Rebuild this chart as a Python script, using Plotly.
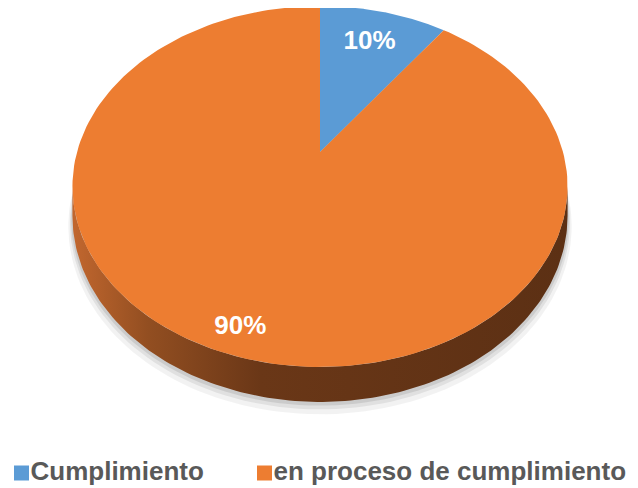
import numpy as np
import plotly.graph_objects as go

# chart data
categories = ["Cumplimiento", "en proceso de cumplimiento"]
values = [10, 90]
labels = ["10%", "90%"]
colors = ["#5b9bd5", "#ed7d31"]

# rough perspective for the tilted pie (pixel space)
CX, CY = 320, 152
SX, SY = 243, 173.9
R = -0.191
DEPTH = 28.3
OFF = 8  # page body margin


def project(u, v, drop=0.0):
    w = 1 + R * v
    return CX + SX * u / w, CY + SY * v / w + drop / w


def slice_angles(vals):
    tot = sum(vals)
    edges = np.cumsum([0] + list(vals)) / tot * 2 * np.pi
    return list(zip(edges[:-1], edges[1:]))


fig = go.Figure()

# soft shadow under the disk
for k, op in [(10, 0.05), (6, 0.07), (3, 0.09)]:
    t = np.linspace(0, 2 * np.pi, 200)
    xs, ys = project(np.cos(t) * (1 + k / 600), np.sin(t), DEPTH + k)
    fig.add_trace(go.Scatter(x=xs, y=ys, fill="toself", mode="lines", line_width=0,
                             fillcolor=f"rgba(0,0,0,{op})", hoverinfo="skip", showlegend=False))

# visible front rim (clockwise from 12 o'clock: u = sin a, v = -cos a)
half = np.pi / 2 - np.arcsin(-R)
for (a0, a1), col in zip(slice_angles(values), colors):
    lo = max(a0, np.pi - half)
    hi = min(a1, np.pi + half)
    if hi <= lo:
        continue
    t = np.linspace(lo, hi, 150)
    u, v = np.sin(t), -np.cos(t)
    xt, yt = project(u, v)
    xb, yb = project(u, v, DEPTH)
    xs = np.concatenate([xt, xb[::-1]])
    ys = np.concatenate([yt, yb[::-1]])
    fig.add_trace(go.Scatter(
        x=xs, y=ys, fill="toself", mode="lines", line_width=0, hoverinfo="skip", showlegend=False,
        fillgradient=dict(type="horizontal", start=75, stop=565,
                          colorscale=[[0, "#c0662e"], [0.15, "#924e21"], [0.38, "#6a3717"], [1, "#5c3014"]]),
    ))

# top face slices
for (a0, a1), col in zip(slice_angles(values), colors):
    t = np.linspace(a0, a1, 200)
    xs, ys = project(np.sin(t), -np.cos(t))
    xs = np.concatenate([[CX], xs, [CX]])
    ys = np.concatenate([[CY], ys, [CY]])
    fig.add_trace(go.Scatter(x=xs, y=ys, fill="toself", mode="lines", line_width=0,
                             fillcolor=col, hoverinfo="skip", showlegend=False))

# data labels
for (a0, a1), lab, rho in zip(slice_angles(values), labels, [0.75, 0.89]):
    m = (a0 + a1) / 2
    x, y = project(rho * np.sin(m), -rho * np.cos(m))
    fig.add_trace(go.Scatter(x=[x], y=[y], mode="text", text=[lab], hoverinfo="skip", showlegend=False,
                             textfont=dict(family="Liberation Sans", size=26, color="white", weight="bold")))

# legend row under the pie, drawn as markers + text
key_x = [21.5, 264.5]
key_y = 473
fig.add_trace(go.Scatter(x=key_x, y=[key_y] * 2, mode="markers", hoverinfo="skip", showlegend=False,
                         marker=dict(symbol="square", size=15, color=colors, line_width=0)))
fig.add_trace(go.Scatter(x=[k + 9 for k in key_x], y=[key_y] * 2, mode="text", text=categories,
                         textposition="middle right", hoverinfo="skip", showlegend=False, cliponaxis=False,
                         textfont=dict(family="Liberation Sans", size=26, color="#595959", weight="bold")))

fig.update_layout(
    width=638, height=488,
    margin=dict(l=0, r=0, t=0, b=0),
    paper_bgcolor="white", plot_bgcolor="white",
    xaxis=dict(range=[OFF, 638 + OFF], visible=False, fixedrange=True),
    yaxis=dict(range=[488 + OFF, OFF], visible=False, fixedrange=True),
    showlegend=False,
    hovermode=False,
)

fig.write_html("out.html")
